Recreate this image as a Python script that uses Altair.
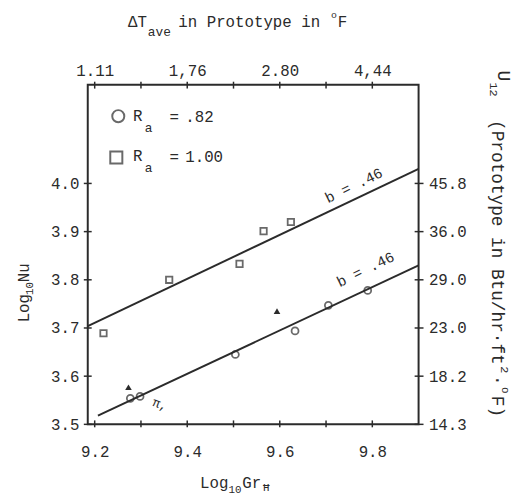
import altair as alt
import pandas as pd

# ---- data ----
sq_x = [9.219, 9.361, 9.513, 9.565, 9.624]          # R_a = 1.00 (squares)
sq_y = [3.689, 3.800, 3.833, 3.901, 3.920]
ci_x = [9.277, 9.298, 9.504, 9.633, 9.705, 9.790]   # R_a = .82 (circles)
ci_y = [3.554, 3.558, 3.645, 3.694, 3.747, 3.778]
tr_x = [9.273, 9.594]                                # filled triangles
tr_y = [3.577, 3.735]
fit_hi_x = [9.185, 9.900]
fit_hi_y = [3.704, 4.030]
fit_lo_x = [9.207, 9.900]
fit_lo_y = [3.518, 3.830]
x_ticks = [9.2, 9.3, 9.4, 9.5, 9.6, 9.7, 9.8]
x_label_vals = [9.2, 9.4, 9.6, 9.8]
top_labels = ["1.11", "1,76", "2.80", "4,44"]
y_ticks = [3.5, 3.6, 3.7, 3.8, 3.9, 4.0]
right_labels = ["14.3", "18.2", "23.0", "29.0", "36.0", "45.8"]
slope_note = "b = .46"

FONT = "Liberation Mono"
INK = "#2b2b2b"
W, H = 336, 345

X = alt.Scale(domain=[9.185, 9.9], nice=False, zero=False)
Y = alt.Scale(domain=[3.5, 4.205], nice=False, zero=False)


def map_expr(vals, labels):
    parts = "".join(f"abs(datum.value - {v}) < 0.01 ? '{l}' : " for v, l in zip(vals[:-1], labels[:-1]))
    return parts + f"'{labels[-1]}'"


ax_common = dict(ticks=False, domain=False, grid=False, labelFont=FONT, labelFontSize=16,
                 labelColor=INK, title=None, labelOverlap=False, labelFlush=False)

df_sq = pd.DataFrame({"x": sq_x, "y": sq_y})
df_ci = pd.DataFrame({"x": ci_x, "y": ci_y})
df_tr = pd.DataFrame({"x": tr_x, "y": tr_y})
df_fit = pd.DataFrame({
    "x": fit_hi_x + fit_lo_x,
    "y": fit_hi_y + fit_lo_y,
    "g": ["hi"] * len(fit_hi_x) + ["lo"] * len(fit_lo_x),
})
df_xt = pd.DataFrame({"v": x_ticks})
df_yt = pd.DataFrame({"v": y_ticks})
one = pd.DataFrame({"k": [0]})

squares = alt.Chart(df_sq).mark_point(shape="square", filled=False, size=42, strokeWidth=1.8, color=INK).encode(
    x=alt.X("x:Q", scale=X, axis=alt.Axis(orient="bottom", values=x_label_vals, format=".1f",
                                          labelPadding=20, **ax_common)),
    y=alt.Y("y:Q", scale=Y, axis=alt.Axis(orient="left", values=y_ticks, format=".1f",
                                          labelPadding=9, **ax_common)),
)

lines = alt.Chart(df_fit).mark_line(color=INK, strokeWidth=2).encode(
    x=alt.X("x:Q", scale=X, axis=alt.Axis(orient="top", values=x_label_vals,
                                          labelExpr=map_expr(x_label_vals, top_labels),
                                          labelPadding=6, **ax_common)),
    y=alt.Y("y:Q", scale=Y, axis=alt.Axis(orient="right", values=y_ticks,
                                          labelExpr=map_expr(y_ticks, right_labels),
                                          labelPadding=10, **ax_common)),
    detail="g:N",
)

circles = alt.Chart(df_ci).mark_point(shape="circle", filled=False, size=50, strokeWidth=1.8, color=INK).encode(
    x=alt.X("x:Q", scale=X, axis=None), y=alt.Y("y:Q", scale=Y, axis=None))
triangles = alt.Chart(df_tr).mark_point(shape="triangle-up", filled=True, size=45, color=INK, opacity=1).encode(
    x=alt.X("x:Q", scale=X, axis=None), y=alt.Y("y:Q", scale=Y, axis=None))

tick_bottom = alt.Chart(df_xt).mark_rule(color=INK, strokeWidth=1.5).encode(
    x=alt.X("v:Q", scale=X, axis=None), y=alt.value(H - 4), y2=alt.value(H + 3))
tick_top = alt.Chart(df_xt).mark_rule(color=INK, strokeWidth=1.5).encode(
    x=alt.X("v:Q", scale=X, axis=None), y=alt.value(-3), y2=alt.value(4))
tick_left = alt.Chart(df_yt).mark_rule(color=INK, strokeWidth=1.5).encode(
    y=alt.Y("v:Q", scale=Y, axis=None), x=alt.value(-4), x2=alt.value(4))
tick_right = alt.Chart(df_yt).mark_rule(color=INK, strokeWidth=1.5).encode(
    y=alt.Y("v:Q", scale=Y, axis=None), x=alt.value(W - 4), x2=alt.value(W + 5))


def txt(s, x, y, size=16, angle=0, align="left", baseline="middle"):
    return alt.Chart(one).mark_text(text=s, font=FONT, fontSize=size, angle=angle, align=align,
                                    baseline=baseline, color=INK).encode(x=alt.value(x), y=alt.value(y))


def note(xv, yv):
    return alt.Chart(one).mark_text(text=slope_note, font=FONT, fontSize=15, angle=334, align="center",
                                    baseline="middle", color=INK).encode(
        x=alt.X("datum_x:Q", scale=X, axis=None), y=alt.Y("datum_y:Q", scale=Y, axis=None)
    ).transform_calculate(datum_x=str(xv), datum_y=str(yv))


notes = note(9.76, 3.996) + note(9.785, 3.822)

legend = (
    alt.Chart(one).mark_point(shape="circle", filled=False, size=150, strokeWidth=2, color=INK).encode(
        x=alt.value(31), y=alt.value(32))
    + alt.Chart(one).mark_point(shape="square", filled=False, size=150, strokeWidth=2, color=INK).encode(
        x=alt.value(29), y=alt.value(74))
    + txt("R", 46, 32) + txt("a", 58, 44, size=13) + txt("=", 83, 33) + txt(".82", 99, 33)
    + txt("R", 46, 73) + txt("a", 58, 85, size=13) + txt("=", 83, 74) + txt("1.00", 99, 74)
)

titles = (
    # top title
    txt("\u0394T", 41, -64) + txt("ave", 61, -53, size=13) + txt("in Prototype in", 92, -64)
    + txt("o", 247, -71, size=10) + txt("F", 254, -64)
    # bottom title
    + txt("Log", 114, 405) + txt("10", 143, 412, size=11) + txt("Gr", 157, 405) + txt("\u0126", 178, 410, size=11)
    # left title
    + txt("Log", -65, 227, angle=270, align="center") + txt("10", -59, 207, size=11, angle=270, align="center")
    + txt("Nu", -65, 191, angle=270, align="center")
    # right title
    + txt("U", 422, -9, size=18, angle=90, align="center") + txt("12", 413, 5, size=12, angle=90, align="center")
    + txt("(Prototype in Btu/hr\u00b7ft", 416, 36, size=18, angle=90, align="left")
    + txt("2", 424, 286, size=12, angle=90, align="left") + txt("\u00b7", 416, 295, size=18, angle=90, align="left")
    + txt("o", 424, 307, size=11, angle=90, align="left") + txt("F)", 416, 316, size=18, angle=90, align="left")
    # handwritten mark near the low-left points
    + txt("\u03c0,", 66, 322, size=13, angle=20)
)

chart = alt.layer(
    squares, lines, circles, triangles, tick_bottom, tick_top, tick_left, tick_right,
    notes, legend, titles,
).resolve_axis(x="independent", y="independent").properties(
    width=W, height=H, background="white",
    padding={"left": 81, "top": 74, "right": 103, "bottom": 75},
    autosize=alt.AutoSizeParams(type="none"),
).configure_view(stroke=INK, strokeWidth=2)

chart.save("out.html", embed_options={"renderer": "svg", "actions": False})
